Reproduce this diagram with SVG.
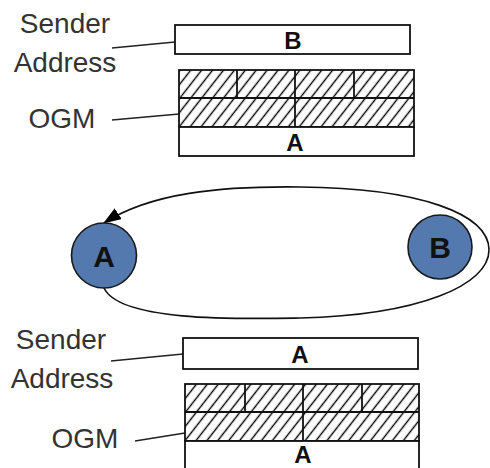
<svg xmlns="http://www.w3.org/2000/svg" width="490" height="468" viewBox="0 0 490 468">
<style>
.lbl{font-family:"Liberation Sans",Arial,sans-serif;font-size:28px;fill:#333;text-anchor:middle}
.fld{font-family:"Liberation Sans",Arial,sans-serif;font-size:24px;font-weight:bold;fill:#111;text-anchor:middle}
.nd{font-family:"Liberation Sans",Arial,sans-serif;font-size:30px;font-weight:bold;fill:#111;text-anchor:middle}
.box{fill:#fff;stroke:#111;stroke-width:1.8}
.hat{fill:url(#hatch);stroke:#111;stroke-width:1.8}
.div{stroke:#111;stroke-width:1.8;fill:none}
.lead{stroke:#222;stroke-width:1.6;fill:none}
.circ{fill:#5479ae;stroke:#1a1a1a;stroke-width:1.6}
</style>
<defs>
<pattern id="hatch" patternUnits="userSpaceOnUse" width="8.6" height="8.6" patternTransform="rotate(38)">
<rect width="8.6" height="8.6" fill="#fff"/>
<line x1="4.3" y1="0" x2="4.3" y2="8.6" stroke="#000" stroke-width="1.4"/>
</pattern>
<marker id="arr" markerUnits="userSpaceOnUse" markerWidth="18" markerHeight="13" viewBox="0 0 18 13" refX="17" refY="6.5" orient="auto">
<path d="M0,0 L18,6.5 L0,13 z" fill="#000"/>
</marker>
</defs>

<g id="connectors">
<line class="lead" x1="112" y1="48" x2="175" y2="42"/>
<line class="lead" x1="112" y1="120" x2="179" y2="114"/>
<line class="lead" x1="111" y1="361" x2="183" y2="354"/>
<line class="lead" x1="135" y1="441" x2="185" y2="433"/>
<path id="loop" d="M104,288 C120,322 240,319 300,318 C420,315 489,285 489,250 C489,214 420,188 300,187 C220,186 150,193 104,223" fill="none" stroke="#111" stroke-width="1.6" marker-end="url(#arr)"/>
</g>

<g id="top-labels">
<text class="lbl" x="65" y="33">Sender</text>
<text class="lbl" x="65" y="72">Address</text>
<text class="lbl" x="62" y="128">OGM</text>
</g>

<g id="top-sender">
<rect class="box" x="175" y="25" width="235" height="29"/>
<text class="fld" x="293" y="48.5">B</text>
</g>

<g id="top-ogm">
<rect class="hat" x="179" y="70" width="235" height="57"/>
<line class="div" x1="179" y1="98" x2="414" y2="98"/>
<line class="div" x1="237" y1="70" x2="237" y2="98"/>
<line class="div" x1="295" y1="70" x2="295" y2="127"/>
<line class="div" x1="354" y1="70" x2="354" y2="98"/>
<rect class="box" x="179" y="127" width="235" height="29"/>
<text class="fld" x="295" y="151">A</text>
</g>

<g id="node-A">
<circle class="circ" cx="104" cy="255.5" r="32.5"/>
<text class="nd" x="104" y="266.5">A</text>
</g>

<g id="node-B">
<circle class="circ" cx="440" cy="247" r="32"/>
<text class="nd" x="440" y="258">B</text>
</g>

<g id="bottom-labels">
<text class="lbl" x="61" y="349">Sender</text>
<text class="lbl" x="62" y="388">Address</text>
<text class="lbl" x="85" y="448">OGM</text>
</g>

<g id="bottom-sender">
<rect class="box" x="183" y="338" width="235" height="31"/>
<text class="fld" x="300" y="363">A</text>
</g>

<g id="bottom-ogm">
<rect class="hat" x="185" y="384" width="234" height="57"/>
<line class="div" x1="185" y1="412" x2="419" y2="412"/>
<line class="div" x1="245" y1="384" x2="245" y2="412"/>
<line class="div" x1="303" y1="384" x2="303" y2="441"/>
<line class="div" x1="362" y1="384" x2="362" y2="412"/>
<rect class="box" x="185" y="441" width="234" height="35"/>
<text class="fld" x="303" y="463">A</text>
</g>
</svg>
